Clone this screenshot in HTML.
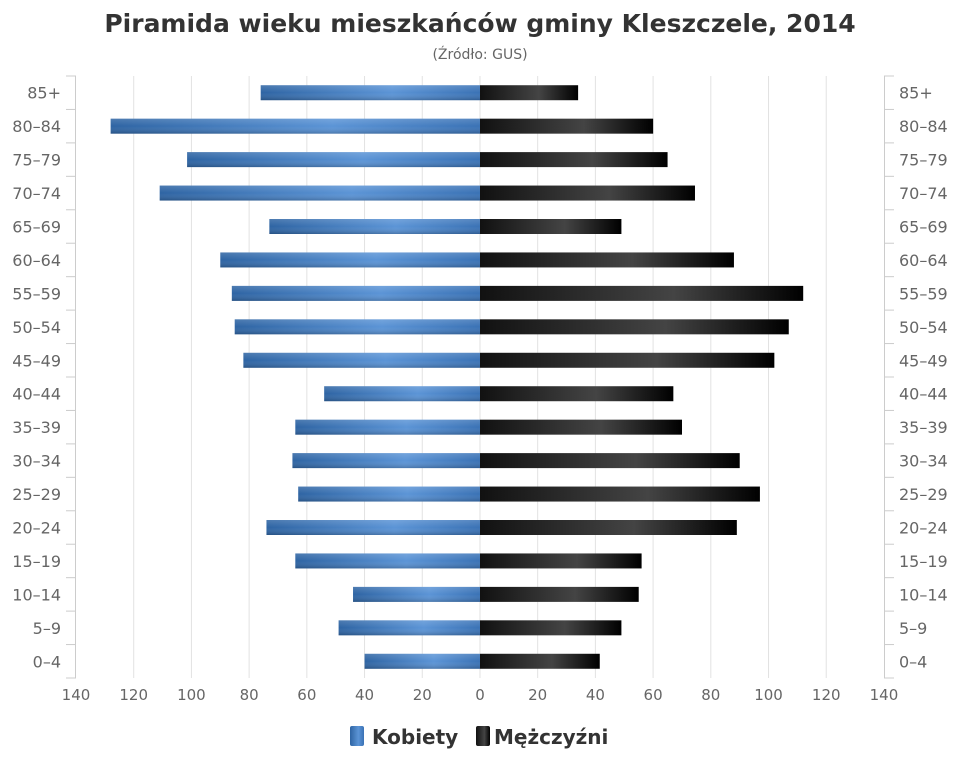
<!DOCTYPE html>
<html><head><meta charset="utf-8"><style>body{margin:0;background:#fff}svg{display:block}text{font-family:"DejaVu Sans","Liberation Sans",sans-serif}</style></head><body>
<svg width="960" height="768" xmlns="http://www.w3.org/2000/svg">
<defs>
<linearGradient id="b" x1="0" y1="0" x2="1" y2="0"><stop offset="0" stop-color="#2e64a3"/><stop offset="0.6" stop-color="#5b94d6"/><stop offset="1" stop-color="#3a72b5"/></linearGradient>
<linearGradient id="k" x1="0" y1="0" x2="1" y2="0"><stop offset="0" stop-color="#111"/><stop offset="0.6" stop-color="#444"/><stop offset="1" stop-color="#000"/></linearGradient>
<linearGradient id="sh" x1="0" y1="0" x2="0" y2="1"><stop offset="0" stop-color="#fff" stop-opacity="0.15"/><stop offset="0.5" stop-color="#fff" stop-opacity="0"/><stop offset="1" stop-color="#000" stop-opacity="0.2"/></linearGradient>
</defs>
<text x="480" y="32" text-anchor="middle" font-size="25" font-weight="bold" fill="#333">Piramida wieku mieszkańców gminy Kleszczele, 2014</text>
<text x="480" y="59" text-anchor="middle" font-size="14" fill="#666">(Źródło: GUS)</text>
<g id="plot"></g>
<g font-size="15" fill="#666" text-anchor="middle" id="xl"></g>
<text x="358" y="744" font-size="20" font-weight="bold" fill="#333">Kobiety</text>
<rect x="350" y="726" width="14" height="20" rx="2" fill="url(#b)"/>
<rect x="476" y="726" width="14" height="20" rx="2" fill="url(#k)"/>
<text x="372" y="744" font-size="20" font-weight="bold" fill="#333">Kobiety</text>
<text x="494" y="744" font-size="20" font-weight="bold" fill="#333">Mężczyźni</text>
</svg>
<script>
var s=document.querySelector('svg'),ns='http://www.w3.org/2000/svg',h='';
var cats=['85+','80-84','75-79','70-74','65-69','60-64','55-59','50-54','45-49','40-44','35-39','30-34','25-29','20-24','15-19','10-14','5-9','0-4'];
var F=[76,128,101.5,111,73,90,86,85,82,54,64,65,63,74,64,44,49,40];
var M=[34,60,65,74.5,49,88,112,107,102,67,70,90,97,89,56,55,49,41.5];
var u=404/140,t=76,b=678,rh=(b-t)/18;
for(var i=0;i<=14;i++){var x=76+i*57.71;if(i!=0&&i!=14)h+='<line x1="'+x+'" y1="'+t+'" x2="'+x+'" y2="'+b+'" stroke="#e2e2e2"/>';
var v=Math.abs(140-i*20);h+='<text x="'+x+'" y="700" font-size="15" fill="#666" text-anchor="middle">'+v+'</text>';}
h+='<line x1="75.5" y1="'+t+'" x2="75.5" y2="'+b+'" stroke="#ccc"/><line x1="884.5" y1="'+t+'" x2="884.5" y2="'+b+'" stroke="#ccc"/>';
for(var j=0;j<=18;j++){var y=t+j*rh;h+='<line x1="66" y1="'+y+'" x2="76" y2="'+y+'" stroke="#ccc"/><line x1="884" y1="'+y+'" x2="894" y2="'+y+'" stroke="#ccc"/>';}
for(var j=0;j<18;j++){var c=t+(j+.5)*rh,w=F[j]*u,m=M[j]*u;
h+='<rect x="'+(480-w)+'" y="'+(c-7.5)+'" width="'+w+'" height="15" fill="url(#b)"/><rect x="'+(480-w)+'" y="'+(c-7.5)+'" width="'+w+'" height="15" fill="url(#sh)"/>';
h+='<rect x="480" y="'+(c-7.5)+'" width="'+m+'" height="15" fill="url(#k)"/>';
var lb=cats[j].replace('-','–');
h+='<text x="61" y="'+(c+6)+'" font-size="16" fill="#666" text-anchor="end">'+lb+'</text><text x="899" y="'+(c+6)+'" font-size="16" fill="#666">'+lb+'</text>';}
document.getElementById('plot').innerHTML=h;
var ts=s.querySelectorAll('svg > text');ts[2].remove();
</script>
</body></html>
